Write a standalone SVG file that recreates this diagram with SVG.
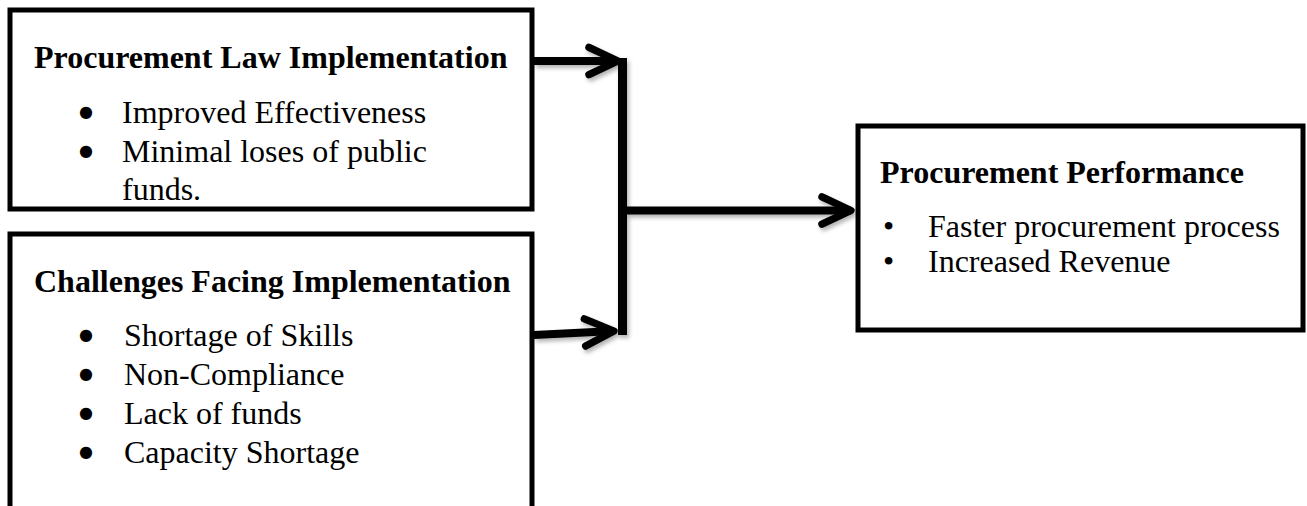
<svg xmlns="http://www.w3.org/2000/svg" width="1307" height="506" viewBox="0 0 1307 506">
  <style>
    .box { fill: #ffffff; stroke: #000000; stroke-width: 5; }
    .title { font-family: "Liberation Serif", "Times New Roman", serif; font-size: 32px; font-weight: bold; fill: #000; }
    .item { font-family: "Liberation Serif", "Times New Roman", serif; font-size: 32px; fill: #000; }
    .dot { font-family: "DejaVu Sans", sans-serif; font-size: 16px; fill: #000; text-anchor: middle; }
    .conn { fill: none; stroke: #000; stroke-width: 8; stroke-linecap: butt; }
    .head { fill: none; stroke: #000; stroke-width: 8; stroke-linecap: round; stroke-linejoin: round; }
  </style>
  <defs>
    <filter id="shadow" x="-20%" y="-20%" width="140%" height="140%">
      <feDropShadow dx="2" dy="3" stdDeviation="2" flood-color="#000" flood-opacity="0.3"/>
    </filter>
    <marker id="chev" markerUnits="userSpaceOnUse" orient="auto" refX="0" refY="0" markerWidth="40" markerHeight="40" viewBox="-40 -20 44 40" overflow="visible">
      <path class="head" d="M -32 -15 L 0 0 L -32 15"/>
    </marker>
  </defs>
  <rect width="1307" height="506" fill="#ffffff"/>

  <g id="node-law">
    <rect class="box" x="10" y="10" width="522" height="199"/>
    <text class="title" x="34" y="68">Procurement Law Implementation</text>
    <text class="dot" x="86" y="117">●</text>
    <text class="item" x="122" y="123">Improved Effectiveness</text>
    <text class="dot" x="86" y="156">●</text>
    <text class="item" x="122" y="162">Minimal loses of public</text>
    <text class="item" x="122" y="200">funds.</text>
  </g>

  <g id="node-challenges">
    <rect class="box" x="10" y="234" width="522" height="280"/>
    <text class="title" x="34" y="292">Challenges Facing Implementation</text>
    <text class="dot" x="86" y="340">●</text>
    <text class="item" x="124" y="346">Shortage of Skills</text>
    <text class="dot" x="86" y="379">●</text>
    <text class="item" x="124" y="385">Non-Compliance</text>
    <text class="dot" x="86" y="418">●</text>
    <text class="item" x="124" y="424">Lack of funds</text>
    <text class="dot" x="86" y="457">●</text>
    <text class="item" x="124" y="463">Capacity Shortage</text>
  </g>

  <g id="node-performance">
    <rect class="box" x="858" y="126" width="445" height="204"/>
    <text class="title" x="880" y="183">Procurement Performance</text>
    <text class="item" x="883" y="237">•</text>
    <text class="item" x="928" y="237">Faster procurement process</text>
    <text class="item" x="883" y="272">•</text>
    <text class="item" x="928" y="272">Increased Revenue</text>
  </g>

  <g id="connectors" filter="url(#shadow)">
    <path class="conn" d="M 534 61 L 618 61" marker-end="url(#chev)"/>
    <path class="conn" d="M 534 335 L 614 331" marker-end="url(#chev)"/>
    <path class="conn" d="M 622.5 58 L 622.5 335" style="stroke-width:9"/>
    <path class="conn" d="M 622 210.5 L 851 210.5" marker-end="url(#chev)"/>
  </g>
</svg>
